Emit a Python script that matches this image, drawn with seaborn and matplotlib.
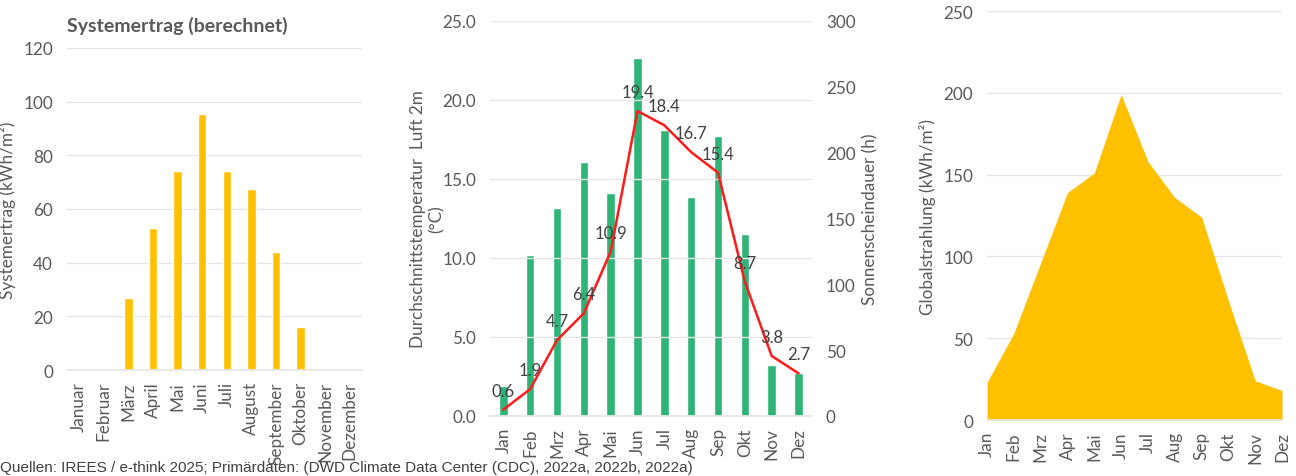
import numpy as np
import pandas as pd
import matplotlib
matplotlib.use("Agg")
import matplotlib.pyplot as plt
import seaborn as sns

# data
months_long = ["Januar", "Februar", "März", "April", "Mai", "Juni", "Juli",
               "August", "September", "Oktober", "November", "Dezember"]
months_short = ["Jan", "Feb", "Mrz", "Apr", "Mai", "Jun", "Jul", "Aug",
                "Sep", "Okt", "Nov", "Dez"]
systemertrag = [0, 0, 27, 53, 74, 95.5, 74, 67.5, 44, 16, 0, 0]
sonnenschein = [23, 122, 158, 193, 169, 272, 217, 166, 213, 138, 39, 33]
temperatur = [0.6, 1.9, 4.7, 6.4, 10.9, 19.4, 18.4, 16.7, 15.4, 8.7, 3.8, 2.7]
temp_line = [0.4, 1.7, 4.8, 6.5, 10.4, 19.3, 18.4, 16.7, 15.4, 8.5, 3.8, 2.7]
globalstrahlung = [23, 53, 96, 139, 151, 199, 158, 136, 124, 73, 24, 18]

YELLOW = "#FFC000"
GREEN = "#2EB477"
RED = "#FF1A1A"
TXT = "#595959"
GRID = "#E6E6E6"
FS = 12.3

sns.set_theme(style="white")
plt.rcParams["font.family"] = ["Lato", "DejaVu Sans"]
plt.rcParams["axes.edgecolor"] = GRID


def style_axis(ax):
    for s in ["top", "right", "left"]:
        ax.spines[s].set_visible(False)
    ax.spines["bottom"].set_color(GRID)
    ax.grid(axis="y", color=GRID, linewidth=1)
    ax.set_axisbelow(True)
    ax.tick_params(axis="both", colors=TXT, labelsize=FS, length=0)
    ax.tick_params(axis="y", pad=10)
    ax.tick_params(axis="x", pad=8)


fig = plt.figure(figsize=(12.96, 4.77), dpi=100)

# 1. Systemertrag
ax1 = fig.add_axes([0.0517, 0.2222, 0.2276, 0.6751])
df1 = pd.DataFrame({"monat": months_long, "wert": systemertrag})
sns.barplot(data=df1, x="monat", y="wert", color=YELLOW, width=0.34,
            saturation=1, ax=ax1)
style_axis(ax1)
ax1.set_ylim(0, 120)
ax1.set_yticks(range(0, 121, 20))
ax1.set_xlim(-0.5, 11.5)
ax1.set_xlabel("")
ax1.set_ylabel("Systemertrag (kWh/m²)", color=TXT, fontsize=FS)
ax1.yaxis.set_label_coords(-0.173, 0.5)
ax1.tick_params(axis="x", labelrotation=90)
ax1.text(0, 1.07, "Systemertrag (berechnet)", transform=ax1.transAxes,
         fontsize=14, fontweight="bold", color=TXT, va="center", ha="left")

# 2. Temperatur und Sonnenscheindauer
ax2 = fig.add_axes([0.378, 0.1258, 0.2485, 0.8281])
ax2r = ax2.twinx()
df2 = pd.DataFrame({"monat": months_short, "sonne": sonnenschein,
                    "temp": temp_line, "label": temperatur})
sns.barplot(data=df2, x="monat", y="sonne", color=GREEN, width=0.32,
            saturation=1, ax=ax2r)
ax2r.set_ylim(0, 300)
ax2r.set_yticks(range(0, 301, 50))
ax2r.set_ylabel("Sonnenscheindauer (h)", color=TXT, fontsize=FS)
ax2r.yaxis.set_label_coords(1.155, 0.5)
for s in ["top", "right", "left", "bottom"]:
    ax2r.spines[s].set_visible(False)
ax2r.tick_params(axis="y", colors=TXT, labelsize=FS, length=0, pad=10)
ax2r.grid(False)

ax2.set_zorder(ax2r.get_zorder() + 1)
ax2.patch.set_visible(False)
sns.lineplot(data=df2, x="monat", y="temp", color=RED, linewidth=1.8,
             sort=False, ax=ax2)
style_axis(ax2)
ax2.set_ylim(0, 25)
ax2.set_yticks(np.arange(0, 25.1, 5))
ax2.set_yticklabels([f"{v:.1f}" for v in np.arange(0, 25.1, 5)])
ax2.set_xlim(-0.5, 11.5)
ax2.set_xlabel("")
ax2.set_ylabel("Durchschnittstemperatur  Luft 2m\n(°C)", color=TXT,
               fontsize=FS, linespacing=1.2)
ax2.yaxis.set_label_coords(-0.14, 0.5)
ax2.tick_params(axis="x", labelrotation=90)
for i, (yv, lab) in enumerate(zip(df2["temp"], df2["label"])):
    ax2.annotate(f"{lab:.1f}", (i, yv), xytext=(0, 8),
                 textcoords="offset points", ha="center", va="bottom",
                 fontsize=12, color="#404040")

# 3. Globalstrahlung
ax3 = fig.add_axes([0.7616, 0.1174, 0.2276, 0.8574])
x3 = np.arange(len(months_short))
ax3.fill_between(x3, globalstrahlung, 0, color=YELLOW, linewidth=0)
style_axis(ax3)
ax3.set_xlim(0, 11)
ax3.set_ylim(0, 250)
ax3.set_yticks(range(0, 251, 50))
ax3.set_xticks(x3)
ax3.set_xticklabels(months_short, rotation=90)
ax3.set_ylabel("Globalstrahlung (kWh/m²)", color=TXT, fontsize=FS)
ax3.yaxis.set_label_coords(-0.173, 0.5)

fig.text(0.0, 0.018, "Quellen: IREES / e-think 2025; Primärdaten: (DWD Climate "
         "Data Center (CDC), 2022a, 2022b, 2022a)", fontsize=11,
         family=["Liberation Sans", "DejaVu Sans"], color="#404040",
         ha="left", va="center")

fig.savefig("out.png", dpi=100)
